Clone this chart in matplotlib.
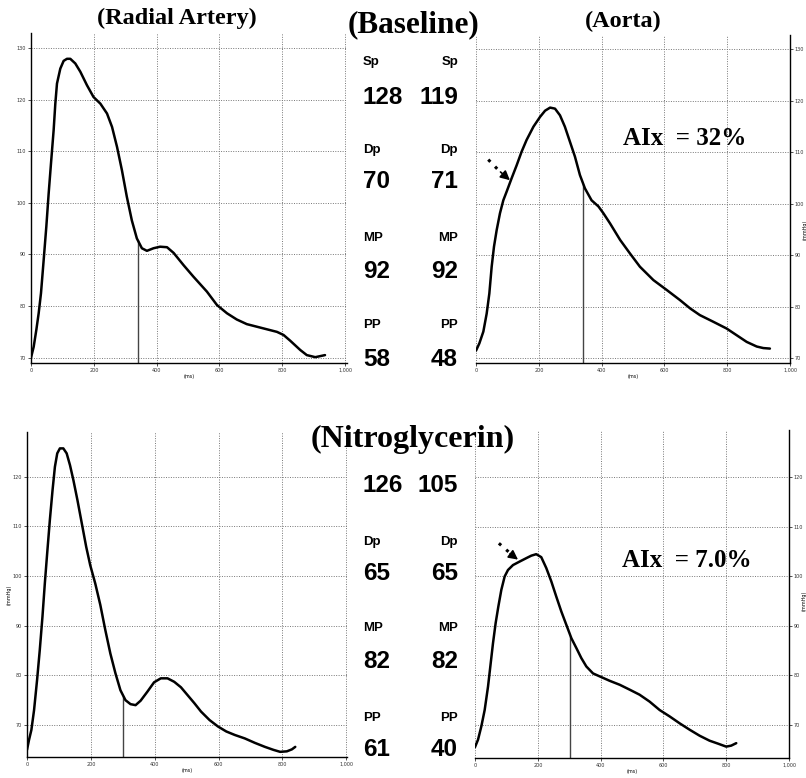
import numpy as np
import matplotlib.pyplot as plt

# ---------------- data ----------------
# Baseline, radial artery (ms, mmHg)
rad_base_t = [0, 8.5, 17, 24.4, 31.8, 40.3, 48.8, 56.2, 63.6, 72.1, 77.4, 82.7, 93.3, 103.9,
              114.5, 125.1, 141, 157, 178, 199, 221, 242, 258, 274, 289.5, 305, 321, 337,
              353, 369, 390, 411, 433, 454, 486, 517, 560, 592, 624, 655, 687, 719, 751,
              783, 804, 825, 857, 878, 905, 936]
rad_base_p = [70.0, 72.1, 75.4, 78.6, 82.5, 88.9, 95.4, 101.8, 107.6, 114.1, 119.2, 123.1,
              126.0, 127.5, 127.9, 127.9, 127.0, 125.4, 122.8, 120.5, 119.2, 117.3, 114.7,
              110.8, 106.3, 101.2, 96.6, 93.1, 91.2, 90.7, 91.2, 91.5, 91.4, 90.3, 87.9,
              85.7, 82.8, 80.2, 78.6, 77.4, 76.5, 76.0, 75.5, 75.0, 74.4, 73.3, 71.5, 70.5,
              70.1, 70.5]
# Baseline, aorta
aor_base_t = [0, 10.6, 23.4, 34, 42.5, 49.9, 57.3, 65.8, 76.4, 87, 97.7, 113.6, 129.5, 145,
              161, 183, 204, 220, 236, 251.6, 267.5, 283, 299, 315, 331, 347, 368, 390,
              405.5, 427, 459, 490, 522, 565, 607, 650, 682, 713, 756, 798, 830, 862, 894,
              915, 936]
aor_base_p = [71.5, 72.9, 75.2, 78.7, 82.6, 87.8, 91.7, 94.9, 98.2, 100.7, 102.4, 105.0,
              107.5, 110.1, 112.4, 115.0, 116.9, 118.1, 118.7, 118.5, 117.2, 115.0, 112.1,
              109.2, 105.6, 103.0, 100.7, 99.5, 98.2, 96.2, 93.0, 90.4, 87.8, 85.2, 83.3,
              81.3, 79.7, 78.4, 77.1, 75.8, 74.5, 73.2, 72.3, 72.0, 71.9]
# Nitroglycerin, radial artery
rad_ntg_t = [0, 6.3, 13.7, 22.1, 31.6, 40, 48.4, 55.8, 63.2, 71.6, 80, 87.4, 94.7, 103,
             113.7, 124.2, 134.7, 145.3, 157.9, 171.6, 185.3, 197.9, 213.7, 229.5, 245.3,
             261, 277, 292.6, 308.4, 324.2, 340, 355.8, 376.8, 397.9, 419, 440, 461, 482,
             503, 524, 545, 571.6, 598, 624, 650.5, 682, 713.7, 745, 771.6, 792.6, 813.7,
             829.5, 840]
rad_ntg_p = [65.0, 67.0, 69.0, 73.0, 79.1, 85.1, 91.8, 98.5, 104.6, 111.3, 117.3, 122.0,
             124.7, 125.7, 125.7, 124.7, 122.3, 119.3, 115.3, 110.6, 105.9, 102.2, 98.5,
             94.2, 89.1, 84.4, 80.4, 77.0, 75.0, 74.2, 74.0, 74.9, 76.7, 78.6, 79.4, 79.4,
             78.7, 77.6, 76.0, 74.4, 72.7, 71.0, 69.7, 68.7, 68.0, 67.3, 66.4, 65.6, 65.0,
             64.6, 64.7, 65.1, 65.6]
# Nitroglycerin, aorta
aor_ntg_t = [0, 9.6, 20.2, 30.8, 41.4, 48.8, 57.3, 65.8, 74.3, 83.9, 94.5, 105, 121, 142,
             163.5, 179.4, 195, 211, 227, 243, 259, 275, 291, 307, 323, 338.6, 354.6,
             375.8, 397, 429, 461, 493, 524, 556, 588, 620, 652, 684, 715.5, 747, 774, 800,
             816, 832]
aor_ntg_p = [65.5, 67.0, 69.7, 73.0, 77.7, 81.8, 86.5, 90.6, 93.9, 97.3, 100.0, 101.3,
             102.3, 103.0, 103.7, 104.2, 104.5, 103.9, 101.7, 99.0, 95.9, 92.9, 90.2, 87.5,
             85.5, 83.5, 81.8, 80.4, 79.8, 78.9, 78.1, 77.1, 76.1, 74.7, 73.0, 71.7, 70.3,
             69.0, 67.8, 66.8, 66.2, 65.6, 65.8, 66.3]

# time of the marker line in each panel
marker_t = [340, 342, 301, 304]

# values in the middle column
row_names = ["Sp", "Dp", "MP", "PP"]
base_radial = [128, 70, 92, 58]
base_aorta = [119, 71, 92, 48]
ntg_radial = [126, 65, 82, 61]
ntg_aorta = [105, 65, 82, 40]

aix_text = ["AIx  = 32%", "AIx  = 7.0%"]

W, H = 806, 778
fig = plt.figure(figsize=(W / 100, H / 100), dpi=100)


def px(x0, y0, x1, y1):
    # pixel box (left, top, right, bottom) -> figure fraction rect
    return [x0 / W, 1 - y1 / H, (x1 - x0) / W, (y1 - y0) / H]


def make_panel(rect, xlim, ylim, yticks, side):
    ax = fig.add_axes(rect)
    ax.set_xlim(*xlim)
    ax.set_ylim(*ylim)
    ax.set_xticks([0, 200, 400, 600, 800, 1000])
    ax.set_xticklabels(["0", "200", "400", "600", "800", "1,000"])
    ax.set_yticks(yticks)
    ax.set_yticklabels([str(v) for v in yticks])
    ax.grid(True, ls=(0, (1, 1.5)), color="#777777", lw=0.7)
    ax.tick_params(labelsize=3.5, length=2, width=0.6, pad=1.5, colors="#333333")
    for s in ["top", "left", "right"]:
        ax.spines[s].set_visible(False)
    ax.spines["bottom"].set_linewidth(1.0)
    if side == "left":
        ax.spines["left"].set_visible(True)
        ax.spines["left"].set_linewidth(1.0)
    else:
        ax.spines["right"].set_visible(True)
        ax.spines["right"].set_linewidth(1.0)
        ax.yaxis.tick_right()
    ax.set_xlabel("(ms)", fontsize=3.5, labelpad=1)
    return ax


panels = [
    (px(31, 33, 347, 363), (0, 1006), (68.97, 132.9), [70, 80, 90, 100, 110, 120, 130], "left",
     rad_base_t, rad_base_p),
    (px(476, 35, 790, 363), (0, 1000), (69.1, 132.8), [70, 80, 90, 100, 110, 120, 130], "right",
     aor_base_t, aor_base_p),
    (px(27, 432, 347, 757), (0, 1002), (63.56, 129.0), [70, 80, 90, 100, 110, 120], "left",
     rad_ntg_t, rad_ntg_p),
    (px(475, 430, 789, 758), (0, 1000), (63.3, 129.6), [70, 80, 90, 100, 110, 120], "right",
     aor_ntg_t, aor_ntg_p),
]

axes = []
for i, (rect, xl, yl, yt, side, t, p) in enumerate(panels):
    ax = make_panel(rect, xl, yl, yt, side)
    ax.plot(t, p, color="black", lw=1.8, solid_capstyle="round", solid_joinstyle="round",
            zorder=3)
    top = np.interp(marker_t[i], t, p)
    ax.vlines(marker_t[i], yl[0], top, color="#444444", lw=1.0, zorder=2)
    if i == 2:
        ax.set_ylabel("(mmHg)", fontsize=3.5, labelpad=1)
    if side == "right":
        ax.set_ylabel("(mmHg)", fontsize=3.5)
        ax.yaxis.set_label_position("right")
        # sit between the 90 and 100 gridlines so it clears the tick labels
        ax.yaxis.set_label_coords(1.04, (95 - yl[0]) / (yl[1] - yl[0]))
    axes.append(ax)

# augmentation arrows and AIx text
ax = axes[1]
ax.plot([39, 74], [108.6, 106.4], ls=(0, (1, 2.2)), lw=2.2, color="black")
ax.annotate("", xy=(108, 104.6), xytext=(78, 106.2),
            arrowprops=dict(arrowstyle="-|>,head_length=0.55,head_width=0.28",
                            color="black", lw=1.2, shrinkA=0, shrinkB=0))
ax.text(666, 112.7, aix_text[0], fontsize=18, fontweight="bold",
        family="Liberation Serif", ha="center", va="center")

ax = axes[3]
ax.plot([76, 110], [106.7, 104.8], ls=(0, (1, 2.2)), lw=2.2, color="black")
ax.annotate("", xy=(137, 103.4), xytext=(112, 104.6),
            arrowprops=dict(arrowstyle="-|>,head_length=0.55,head_width=0.28",
                            color="black", lw=1.2, shrinkA=0, shrinkB=0))
ax.text(673, 103.2, aix_text[1], fontsize=18, fontweight="bold",
        family="Liberation Serif", ha="center", va="center")

# titles
serif = dict(family="Liberation Serif", fontweight="bold", ha="center", va="center")
fig.text(177 / W, 1 - 18 / H, "(Radial Artery)", fontsize=17.5, **serif)
fig.text(623 / W, 1 - 21 / H, "(Aorta)", fontsize=17.5, **serif)
fig.text(414 / W, 1 - 25 / H, "(Baseline)", fontsize=22.5, **serif)
fig.text(413 / W, 1 - 439 / H, "(Nitroglycerin)", fontsize=23, **serif)

# middle column of numbers
sans = dict(family="Liberation Sans", fontweight="bold", va="center")
lx, rx = 363, 458


def write_block(name_y, num_y, left_vals, right_vals, show_first_name):
    for k in range(4):
        if k > 0 or show_first_name:
            fig.text(lx / W, 1 - name_y[k] / H, row_names[k], fontsize=9.5, ha="left", **sans)
            fig.text(rx / W, 1 - name_y[k] / H, row_names[k], fontsize=9.5, ha="right", **sans)
        fig.text(lx / W, 1 - num_y[k] / H, str(left_vals[k]), fontsize=17.5, ha="left", **sans)
        fig.text(rx / W, 1 - num_y[k] / H, str(right_vals[k]), fontsize=17.5, ha="right", **sans)


write_block([62, 150, 238, 325], [97, 182, 272, 360], base_radial, base_aorta, True)
write_block([0, 542, 628, 718], [485, 573, 662, 750], ntg_radial, ntg_aorta, False)

fig.savefig("out.png", dpi=100)
